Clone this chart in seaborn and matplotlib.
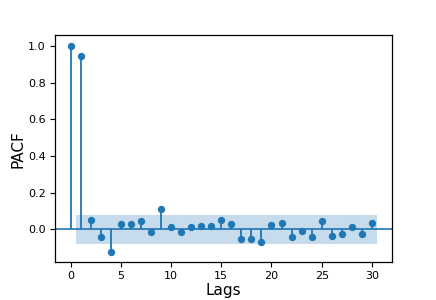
import numpy as np
import pandas as pd
import matplotlib
matplotlib.use("Agg")
import matplotlib.pyplot as plt
import seaborn as sns

lags = list(range(31))
pacf = [1.0, 0.945, 0.049, -0.044, -0.124, 0.031, 0.029, 0.044, -0.016, 0.109,
        0.011, -0.016, 0.011, 0.016, 0.016, 0.049, 0.031, -0.056, -0.056, -0.067,
        0.024, 0.033, -0.042, -0.009, -0.042, 0.044, -0.036, -0.024, 0.011, -0.024,
        0.033]
conf_halfwidth = 0.08
band_lags = [0.5] + list(range(2, 30)) + [30.5]

sns.set_style("ticks", rc={"axes.edgecolor": "black", "text.color": "black",
                           "axes.labelcolor": "black", "xtick.color": "black",
                           "ytick.color": "black"})
plt.rcParams['font.family'] = ['DejaVu Sans']

fig = plt.figure(figsize=(4.36, 3.0), dpi=100)
ax = fig.add_axes([0.1261, 0.126, 0.773, 0.757])

df = pd.DataFrame({"lag": lags, "pacf": pacf})
c0 = "#1f77b4"
ax.axhline(0, color=c0, lw=1.2, zorder=1)
ax.vlines(df["lag"], 0, df["pacf"], color=c0, lw=1.3, zorder=2)
sns.scatterplot(data=df, x="lag", y="pacf", ax=ax, color=c0, s=28,
                edgecolor=c0, linewidth=0, zorder=3)
ax.fill_between(band_lags, [-conf_halfwidth]*len(band_lags),
                [conf_halfwidth]*len(band_lags), color=c0, alpha=0.25,
                linewidth=0, zorder=0)

ax.set_xlim(-1.55, 32.0)
ax.set_ylim(-0.18, 1.06)
ax.set_xticks([0, 5, 10, 15, 20, 25, 30])
ax.set_yticks([0.0, 0.2, 0.4, 0.6, 0.8, 1.0])
ax.set_yticklabels(["0.0", "0.2", "0.4", "0.6", "0.8", "1.0"])
ax.tick_params(labelsize=8, length=3.5, width=0.8, pad=3)
ax.set_xlabel("Lags", fontsize=11, labelpad=1.5)
ax.set_ylabel("PACF", fontsize=11, labelpad=2)
for s in ax.spines.values():
    s.set_linewidth(0.9)

fig.savefig("out.png", dpi=100)
